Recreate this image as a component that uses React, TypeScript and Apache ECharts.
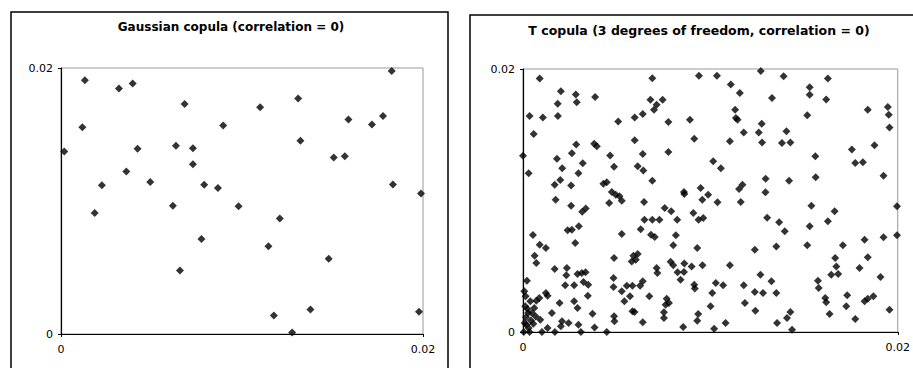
import React, { useEffect, useRef } from "react";
import * as echarts from "echarts";

const gaussianTitle = "Gaussian copula (correlation = 0)";
const tTitle = "T copula (3 degrees of freedom, correlation = 0)";
const axisMin = 0;
const axisMax = 0.02;

const gaussianPoints: [number, number][] = [
  [0.00018, 0.01373], [0.00118, 0.01555], [0.00132, 0.01908], [0.00186, 0.0091],
  [0.00226, 0.01119], [0.0032, 0.01846], [0.00396, 0.01883], [0.00361, 0.01221],
  [0.00423, 0.01393], [0.00493, 0.01142], [0.00618, 0.00965], [0.00635, 0.01415],
  [0.00657, 0.00478], [0.00683, 0.01729], [0.00729, 0.01396], [0.00729, 0.01276],
  [0.00776, 0.00714], [0.00791, 0.01122], [0.00867, 0.01097], [0.00896, 0.01567],
  [0.00981, 0.0096], [0.011, 0.01704], [0.01146, 0.00659], [0.01176, 0.00139],
  [0.01209, 0.00868], [0.01277, 0.00012], [0.0131, 0.01771], [0.01323, 0.01453],
  [0.01378, 0.00184], [0.01479, 0.00565], [0.01507, 0.01328], [0.01568, 0.01336],
  [0.01588, 0.01612], [0.01718, 0.01575], [0.01779, 0.01639], [0.01827, 0.01978],
  [0.01834, 0.01124], [0.01978, 0.00167], [0.01989, 0.01057],
];

const tPointsTop: [number, number][] = [
  [0.00089, 0.01927], [0.0069, 0.01929], [0.00939, 0.01949], [0.01035, 0.01949],
  [0.01269, 0.01985], [0.01391, 0.01944], [0.01627, 0.01927], [0.01109, 0.01883],
  [0.01157, 0.01818], [0.0153, 0.01861], [0.0153, 0.01805], [0.01618, 0.01769],
  [0.01329, 0.0178], [0.00202, 0.0183], [0.00282, 0.01807], [0.00287, 0.01747],
  [0.00385, 0.01787], [0.00185, 0.01736], [0.0068, 0.01767], [0.00745, 0.01767],
  [0.00713, 0.01729], [0.00699, 0.01691], [0.0184, 0.01691], [0.01947, 0.01711],
  [0.01952, 0.01653], [0.01956, 0.01556], [0.01132, 0.01691], [0.01136, 0.01627],
  [0.01145, 0.01615], [0.01517, 0.01648],
  [0.00035, 0.01643], [0.00106, 0.01632], [0.00186, 0.01643], [0.00057, 0.01506],
  [0.00596, 0.01632], [0.00639, 0.01658], [0.00508, 0.016], [0.00776, 0.01597],
  [0.00891, 0.01615], [0.01274, 0.01584], [0.01258, 0.01518], [0.01178, 0.01518],
  [0.01406, 0.01526], [0.00596, 0.01458], [0.00914, 0.0147], [0.01104, 0.0145],
  [0.01276, 0.01442], [0.01382, 0.01437], [0.01427, 0.01442], [0.00284, 0.01425],
  [0.0038, 0.01432], [0.00394, 0.01412],
];

const tPointsMiddle: [number, number][] = [
  [0.0, 0.01341], [0.0003, 0.01207], [0.00181, 0.01318], [0.00261, 0.01359],
  [0.00209, 0.01245], [0.00319, 0.01283], [0.00296, 0.01207], [0.00465, 0.01343],
  [0.00486, 0.01257], [0.00639, 0.01354], [0.00776, 0.01369], [0.00612, 0.0126],
  [0.00642, 0.01229], [0.0069, 0.01151], [0.01015, 0.01298], [0.01056, 0.01245],
  [0.0156, 0.01336], [0.01755, 0.01387], [0.01773, 0.01285], [0.01814, 0.0129],
  [0.01876, 0.0142], [0.01924, 0.01189], [0.01562, 0.01176], [0.01295, 0.01166],
  [0.0142, 0.01151], [0.00169, 0.0112], [0.00199, 0.01156], [0.00257, 0.01115],
  [0.00429, 0.01128], [0.00447, 0.01138], [0.01171, 0.0112], [0.01153, 0.01087],
  [0.00174, 0.01006], [0.00257, 0.00961], [0.00316, 0.00915], [0.00335, 0.0094],
  [0.00474, 0.01065], [0.00495, 0.01044], [0.00515, 0.01032], [0.0046, 0.00981],
  [0.00527, 0.00999], [0.00646, 0.00989], [0.00859, 0.01065], [0.00861, 0.01049],
  [0.00948, 0.01095], [0.00988, 0.01044], [0.00957, 0.01006], [0.01038, 0.00986],
  [0.01162, 0.00989], [0.01294, 0.01062], [0.01539, 0.00961], [0.01663, 0.00918],
  [0.01996, 0.00956], [0.00756, 0.00943], [0.00791, 0.00918], [0.00823, 0.00854],
  [0.00648, 0.00854], [0.0069, 0.00854], [0.00728, 0.00854], [0.00909, 0.00905],
  [0.00937, 0.00854], [0.00962, 0.00867], [0.01303, 0.00869], [0.01367, 0.00834],
  [0.01397, 0.00766], [0.01627, 0.00842], [0.0153, 0.00804],
  [0.00053, 0.00738], [0.00089, 0.00664], [0.00122, 0.00639], [0.00238, 0.00773],
  [0.00261, 0.00778], [0.00298, 0.00804], [0.00279, 0.00677], [0.00527, 0.00745],
  [0.00628, 0.00781], [0.00683, 0.0074], [0.00703, 0.00722], [0.00816, 0.00735],
  [0.00802, 0.00659], [0.0093, 0.00639], [0.01237, 0.00626], [0.01352, 0.00651],
  [0.01517, 0.00659], [0.01707, 0.00659], [0.01823, 0.00702], [0.01924, 0.0072],
  [0.01996, 0.00735],
];

const tPointsLower: [number, number][] = [
  [0.00062, 0.0058], [0.00071, 0.00525], [0.00169, 0.00479], [0.00234, 0.00487],
  [0.00231, 0.00431], [0.00291, 0.00441], [0.00314, 0.00449], [0.00334, 0.00454],
  [0.00486, 0.00563], [0.00589, 0.0058], [0.00612, 0.00593], [0.00602, 0.0055],
  [0.0058, 0.00537], [0.00713, 0.00487], [0.00717, 0.00449], [0.00788, 0.00535],
  [0.00802, 0.00507], [0.00825, 0.00454], [0.00859, 0.00456], [0.00861, 0.0052],
  [0.009, 0.00499], [0.00958, 0.00507], [0.01104, 0.00507], [0.00841, 0.00398],
  [0.01666, 0.00563], [0.01672, 0.00499], [0.01682, 0.00441], [0.01645, 0.00436],
  [0.01796, 0.00487], [0.0184, 0.00568], [0.01908, 0.00418], [0.00483, 0.00411],
  [0.00021, 0.0039], [0.00323, 0.0038], [0.00348, 0.0036], [0.00225, 0.00355],
  [0.00273, 0.00355], [0.00639, 0.00385], [0.00625, 0.00352], [0.01267, 0.00436],
  [0.01326, 0.00385], [0.01574, 0.0039],
  [0.00007, 0.00309], [0.00014, 0.00271], [0.00039, 0.00233], [0.00071, 0.00238],
  [0.00087, 0.00259], [0.00122, 0.00297], [0.00131, 0.00276], [0.00483, 0.00342],
  [0.00554, 0.00352], [0.00584, 0.00352], [0.00527, 0.00309], [0.00571, 0.00271],
  [0.00541, 0.00233], [0.00674, 0.00271], [0.00346, 0.00276], [0.00195, 0.00221],
  [0.00273, 0.00233], [0.00767, 0.00253], [0.00779, 0.00221], [0.00761, 0.00208],
  [0.00914, 0.0036], [0.00917, 0.0033], [0.01029, 0.00373], [0.01068, 0.00355],
  [0.0101, 0.00297], [0.01178, 0.00355], [0.01237, 0.00304], [0.01281, 0.00297],
  [0.01352, 0.00297], [0.01578, 0.00335], [0.01613, 0.00259], [0.01618, 0.00226],
  [0.0173, 0.00279], [0.01823, 0.00233], [0.0184, 0.00253], [0.0187, 0.00271],
  [0.01184, 0.00221], [0.01001, 0.00195], [0.01725, 0.00195], [0.01956, 0.0017],
];

const tPointsBottom: [number, number][] = [
  [0.00012, 0.00195], [0.00027, 0.00144], [0.00048, 0.00144], [0.0006, 0.00183],
  [0.00009, 0.00068], [0.00018, 0.00056], [0.0003, 0.0003], [0.00004, 0.0],
  [0.00035, 0.0], [0.00092, 0.00094], [0.00101, 0.0], [0.00131, 0.0003],
  [0.00154, 0.00144], [0.0017, 0.0], [0.00208, 0.00081], [0.00202, 0.00043],
  [0.00243, 0.00068], [0.00291, 0.00183], [0.00296, 0.00056], [0.00309, 0.0],
  [0.00371, 0.00139], [0.00382, 0.00035], [0.00447, 0.0], [0.00486, 0.00119],
  [0.00488, 0.00081], [0.00584, 0.00157], [0.00595, 0.00152], [0.00639, 0.00074],
  [0.00752, 0.0015], [0.00752, 0.00106], [0.00855, 0.00038], [0.00935, 0.00137],
  [0.0093, 0.00086], [0.0102, 0.00025], [0.01081, 0.00068], [0.0124, 0.00162],
  [0.01356, 0.00068], [0.01409, 0.00106], [0.01427, 0.00152], [0.01436, 0.00018],
  [0.01636, 0.00137], [0.01773, 0.00099],
  [0.00016, 0.00112], [0.00042, 0.00088], [0.00024, 0.00175], [0.00055, 0.00062],
  [0.00068, 0.00118],
];

const tPoints = [...tPointsTop, ...tPointsMiddle, ...tPointsLower, ...tPointsBottom];

const FONT = "DejaVu Sans";

function axisPair(gridIndex: number) {
  const common = {
    gridIndex,
    type: "value" as const,
    min: axisMin,
    max: axisMax,
    interval: axisMax,
    splitLine: { show: false },
    axisLine: { show: true, onZero: false, lineStyle: { color: "#000", width: 1.2 } },
    axisTick: { show: true, length: 3, lineStyle: { color: "#000" } },
    axisLabel: {
      color: "#000",
      fontFamily: FONT,
      fontSize: 11,
      formatter: (v: number) => (v === 0 ? "0" : String(v)),
    },
  };
  return {
    x: { ...common, axisLabel: { ...common.axisLabel, margin: 10 } },
    y: { ...common, axisLabel: { ...common.axisLabel, margin: 8 } },
  };
}

export default function App() {
  const ref = useRef<HTMLDivElement>(null);
  useEffect(() => {
    if (!ref.current) return;
    const chart = echarts.init(ref.current, undefined, { renderer: "svg" });
    const a0 = axisPair(0);
    const a1 = axisPair(1);
    chart.setOption({
      animation: false,
      backgroundColor: "#fff",
      grid: [
        { left: 61, top: 68, width: 362, height: 266, show: true, borderColor: "#999", borderWidth: 1, backgroundColor: "transparent" },
        { left: 523, top: 69, width: 375, height: 263, show: true, borderColor: "#999", borderWidth: 1, backgroundColor: "transparent" },
      ],
      xAxis: [a0.x, a1.x],
      yAxis: [a0.y, a1.y],
      graphic: [
        { type: "rect", shape: { x: 11, y: 12, width: 437, height: 380 }, style: { fill: "none", stroke: "#000", lineWidth: 1.5 }, z: -1 },
        { type: "rect", shape: { x: 470, y: 15, width: 460, height: 380 }, style: { fill: "none", stroke: "#000", lineWidth: 1.5 }, z: -1 },
        { type: "text", x: 231, y: 27, style: { text: gaussianTitle, fontFamily: FONT, fontWeight: "bold", fontSize: 12, fill: "#000", textAlign: "center", textVerticalAlign: "middle" } },
        { type: "text", x: 699, y: 30, style: { text: tTitle, fontFamily: FONT, fontWeight: "bold", fontSize: 12.5, fill: "#000", textAlign: "center", textVerticalAlign: "middle" } },
      ],
      series: [
        { type: "scatter", xAxisIndex: 0, yAxisIndex: 0, data: gaussianPoints, symbol: "diamond", symbolSize: 8, itemStyle: { color: "#000" } },
        { type: "scatter", xAxisIndex: 1, yAxisIndex: 1, data: tPoints, symbol: "diamond", symbolSize: 8, itemStyle: { color: "#000" } },
      ],
    });
    return () => chart.dispose();
  }, []);
  return (
    <div
      ref={ref}
      style={{ position: "absolute", left: 0, top: 0, width: 913, height: 368, background: "#fff" }}
    />
  );
}
